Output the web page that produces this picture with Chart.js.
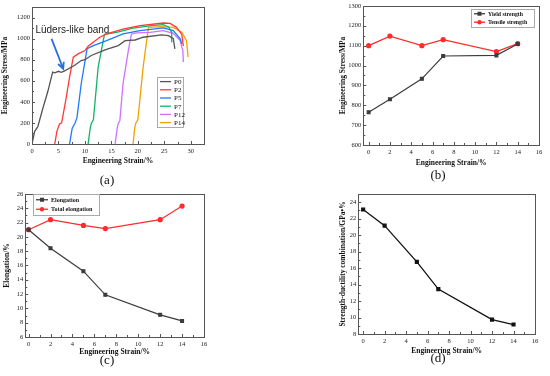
<!DOCTYPE html>
<html><head><meta charset="utf-8">
<script src="https://cdn.jsdelivr.net/npm/chart.js@4.4.1/dist/chart.umd.min.js"></script>
<style>
body{margin:0;background:#fff;width:550px;height:376px;position:relative;overflow:hidden}
canvas{position:absolute}
.tag{position:absolute;font:13px "Liberation Serif",serif;color:#111;transform:translate(-50%,-50%)}
</style></head><body>
<canvas id="ca" width="275" height="188" style="left:0;top:0"></canvas>
<canvas id="cb" width="275" height="188" style="left:275px;top:0"></canvas>
<canvas id="cc" width="275" height="188" style="left:0;top:188px"></canvas>
<canvas id="cd" width="275" height="188" style="left:275px;top:188px"></canvas>
<div class="tag" style="left:107px;top:180px">(a)</div>
<div class="tag" style="left:438px;top:175px">(b)</div>
<div class="tag" style="left:107px;top:360px">(c)</div>
<div class="tag" style="left:438px;top:358px">(d)</div>
<script>
// ---- data ----
// (a) stress-strain curves, [strain %, stress MPa]
const curveNames = ['P0', 'P2', 'P5', 'P7', 'P12', 'P14'];
const p0 = [[0,0],[0.5,120],[1.1,165],[2,330],[3,500],[3.9,682],[4.3,675],[5,690],[5.5,680],[6.1,692],[8,745],[9.3,792],[10,800],[11.2,840],[13.8,893],[16.3,934],[17.6,981],[19.5,987],[21,1013],[24.5,1035],[25.8,1028],[26.7,1000],[27,903]];
const p2 = [[4.3,0],[4.7,120],[5.2,190],[5.6,200],[6.4,420],[7.1,635],[7.8,824],[8.7,855],[10,887],[10.6,928],[12.8,1013],[14.1,1044],[17.2,1091],[20.4,1123],[24.8,1148],[26.1,1145],[27.3,1107],[28.3,1040],[28.6,930]];
const p5 = [[7.1,0],[7.6,150],[8.1,195],[8.5,250],[9.3,572],[10.4,903],[10.8,915],[11.6,934],[14.1,981],[17.2,1044],[20.4,1076],[24.8,1101],[26.7,1076],[28,997],[28.3,950]];
const p7 = [[10.6,0],[11,150],[11.2,195],[11.6,230],[12.5,730],[13.4,965],[13.7,1040],[16,1060],[19.1,1100],[22.9,1125],[24.8,1132],[25.8,1110],[26.4,1060],[26.4,965]];
const p12 = [[15.7,0],[16.1,150],[16.3,195],[16.6,220],[17.2,572],[18.2,887],[18.8,1044],[19.8,1054],[22.3,1060],[24.8,1076],[26.7,1050],[28,981],[28.5,887],[28.6,777]];
const p14 = [[19.1,0],[19.4,150],[19.6,195],[20,230],[21,730],[22,1107],[24.2,1113],[26.7,1107],[28.3,1060],[29.2,981],[29.5,824]];
const curves = [p0, p2, p5, p7, p12, p14];

// (b)-(d) share the pre-strain levels
const preStrain = [0, 2, 5, 7, 12, 14];
const yieldStrength = [765, 830, 933, 1048, 1051, 1108];
const tensileStrength = [1100, 1148, 1100, 1130, 1070, 1110];
const elongation = [21.0, 18.4, 15.2, 11.9, 9.1, 8.25];
const totalElongation = [21.0, 22.4, 21.6, 21.15, 22.4, 24.3];
const psProduct = [23.1, 21.15, 16.75, 13.45, 9.75, 9.15];

// tick labels
const aTicksX = [0, 5, 10, 15, 20, 25, 30];
const aTicksY = [0, 200, 400, 600, 800, 1000, 1200];
const sTicksX = [0, 2, 4, 6, 8, 10, 12, 14, 16];
const bTicksY = [600, 700, 800, 900, 1000, 1100, 1200, 1300];
const cTicksY = [6, 8, 10, 12, 14, 16, 18, 20, 22, 24, 26];
const dTicksY = [8, 10, 12, 14, 16, 18, 20, 22, 24];

const curveColors = ['#555555', '#ff3838', '#1f78ff', '#12b36a', '#d070ff', '#f2a300'];
const SERIF = '"Liberation Serif", "Times New Roman", serif';

// frame + inward ticks + boxed legend + annotations
const framePlugin = {
  id: 'frame',
  afterDraw(chart, args, o) {
    const {ctx, chartArea: a, scales: {x, y}} = chart;
    ctx.save();
    ctx.strokeStyle = '#555';
    ctx.lineWidth = 1;
    ctx.strokeRect(Math.round(a.left) + 0.5, Math.round(a.top) + 0.5, Math.round(a.right - a.left), Math.round(a.bottom - a.top));
    ctx.beginPath();
    const xt = o.xTicks, yt = o.yTicks;
    xt.forEach((v, i) => {
      const px = Math.round(x.getPixelForValue(v)) + 0.5;
      ctx.moveTo(px, a.bottom); ctx.lineTo(px, a.bottom - 3);
      if (i < xt.length - 1) {
        const m = Math.round(x.getPixelForValue((v + xt[i + 1]) / 2)) + 0.5;
        ctx.moveTo(m, a.bottom); ctx.lineTo(m, a.bottom - 2);
      }
    });
    yt.forEach((v, i) => {
      const py = Math.round(y.getPixelForValue(v)) + 0.5;
      ctx.moveTo(a.left, py); ctx.lineTo(a.left + 3, py);
      if (i < yt.length - 1) {
        const m = Math.round(y.getPixelForValue((v + yt[i + 1]) / 2)) + 0.5;
        ctx.moveTo(a.left, m); ctx.lineTo(a.left + 2, m);
      }
    });
    ctx.stroke();

    if (o.legend) {
      const L = o.legend;
      ctx.strokeStyle = '#aaa';
      ctx.strokeRect(L.x + 0.5, L.y + 0.5, L.w, L.h);
      ctx.font = L.font;
      ctx.textBaseline = 'middle';
      chart.data.datasets.forEach((ds, i) => {
        const ry = L.y + L.pad + L.row * (i + 0.5);
        ctx.strokeStyle = ds.borderColor;
        ctx.lineWidth = 1.3;
        ctx.beginPath();
        ctx.moveTo(L.x + 3, ry); ctx.lineTo(L.x + 3 + L.line, ry);
        ctx.stroke();
        if (ds.pointRadius) {
          ctx.fillStyle = ds.borderColor;
          const cx = L.x + 3 + L.line / 2;
          if (ds.pointStyle === 'rect') ctx.fillRect(cx - 2, ry - 2, 4, 4);
          else { ctx.beginPath(); ctx.arc(cx, ry, 2.2, 0, Math.PI * 2); ctx.fill(); }
        }
        ctx.fillStyle = '#111';
        ctx.fillText(ds.label, L.x + 6 + L.line, ry + 0.5);
      });
    }

    if (o.note) {
      const n = o.note;
      ctx.font = n.font;
      ctx.fillStyle = '#222';
      ctx.textBaseline = 'middle';
      ctx.fillText(n.text, x.getPixelForValue(n.at[0]), y.getPixelForValue(n.at[1]));
      const x0 = x.getPixelForValue(n.from[0]), y0 = y.getPixelForValue(n.from[1]);
      const x1 = x.getPixelForValue(n.to[0]), y1 = y.getPixelForValue(n.to[1]);
      const ang = Math.atan2(y1 - y0, x1 - x0);
      ctx.strokeStyle = '#2a6fd6';
      ctx.lineWidth = 1.8;
      ctx.beginPath();
      ctx.moveTo(x0, y0); ctx.lineTo(x1, y1);
      ctx.moveTo(x1 - 7 * Math.cos(ang - 0.45), y1 - 7 * Math.sin(ang - 0.45));
      ctx.lineTo(x1, y1);
      ctx.lineTo(x1 - 7 * Math.cos(ang + 0.45), y1 - 7 * Math.sin(ang + 0.45));
      ctx.stroke();
    }
    ctx.restore();
  }
};

function axes(p) {
  const tickFont = {family: SERIF, size: 6.5};
  const titleFont = {family: SERIF, size: 7.5, weight: 'bold'};
  return {
    x: {
      type: 'linear', min: p.xMin, max: p.xMax,
      grid: {display: false, drawTicks: false}, border: {display: false},
      ticks: {font: tickFont, color: '#222', padding: 3, maxRotation: 0, callback: v => String(v)},
      afterBuildTicks: s => { s.ticks = p.xTicks.map(v => ({value: v})); },
      afterFit: s => { s.height = p.xH; },
      title: {display: true, text: 'Engineering Strain/%', font: titleFont, color: '#111', padding: 0}
    },
    y: {
      type: 'linear', min: p.yMin, max: p.yMax,
      grid: {display: false, drawTicks: false}, border: {display: false},
      ticks: {font: tickFont, color: '#222', padding: 2, callback: v => String(v)},
      afterBuildTicks: s => { s.ticks = p.yTicks.map(v => ({value: v})); },
      afterFit: s => { s.width = p.yW; },
      title: {display: true, text: p.yTitle, font: titleFont, color: '#111', padding: 0}
    }
  };
}

function pts(xs, ys) { return xs.map((v, i) => ({x: v, y: ys[i]})); }

const common = {
  responsive: false, animation: false,
  plugins: {legend: {display: false}, tooltip: {enabled: false}}
};

// (a)
new Chart(document.getElementById('ca'), {
  type: 'line',
  data: {
    datasets: curves.map((c, i) => ({
      label: curveNames[i],
      data: c.map(p => ({x: p[0], y: p[1]})),
      borderColor: curveColors[i], borderWidth: 1.3, pointRadius: 0, tension: 0
    }))
  },
  options: {
    ...common,
    layout: {padding: {left: 1, top: 7, right: 71, bottom: 22}},
    scales: axes({xMin: 0, xMax: 32.5, yMin: 0, yMax: 1300, xTicks: aTicksX, yTicks: aTicksY, xH: 22, yW: 31, yTitle: 'Engineering Stress/MPa'}),
    plugins: {
      ...common.plugins,
      frame: {
        xTicks: aTicksX, yTicks: aTicksY,
        legend: {x: 157, y: 77, w: 26, h: 50, pad: 0.5, row: 8.2, line: 11, font: '7px ' + SERIF},
        note: {text: 'Lüders-like band', font: '10px "Liberation Sans", Arial, sans-serif', at: [0.65, 1075], from: [3.7, 997], to: [5.9, 714]}
      }
    }
  },
  plugins: [framePlugin]
});

// (b)
new Chart(document.getElementById('cb'), {
  type: 'line',
  data: {
    datasets: [
      {label: 'Yield strength', data: pts(preStrain, yieldStrength), borderColor: '#3c3c3c', backgroundColor: '#3c3c3c', borderWidth: 1.2, pointStyle: 'rect', pointRadius: 2},
      {label: 'Tensile strength', data: pts(preStrain, tensileStrength), borderColor: '#ff2b2b', backgroundColor: '#ff2b2b', borderWidth: 1.2, pointStyle: 'circle', pointRadius: 2}
    ]
  },
  options: {
    ...common,
    layout: {padding: {left: 64, top: 5, right: 11, bottom: 20.5}},
    scales: axes({xMin: -0.5, xMax: 16, yMin: 600, yMax: 1300, xTicks: sTicksX, yTicks: bTicksY, xH: 22.5, yW: 24.3, yTitle: 'Engineering Stress/MPa'}),
    plugins: {
      ...common.plugins,
      frame: {xTicks: sTicksX, yTicks: bTicksY,
        legend: {x: 196, y: 9, w: 63, h: 18, pad: 0.5, row: 8.5, line: 11, font: 'bold 5.8px ' + SERIF}}
    }
  },
  plugins: [framePlugin]
});

// (c)
new Chart(document.getElementById('cc'), {
  type: 'line',
  data: {
    datasets: [
      {label: 'Elongation', data: pts(preStrain, elongation), borderColor: '#3c3c3c', backgroundColor: '#3c3c3c', borderWidth: 1.2, pointStyle: 'rect', pointRadius: 2},
      {label: 'Total elongation', data: pts(preStrain, totalElongation), borderColor: '#ff2b2b', backgroundColor: '#ff2b2b', borderWidth: 1.2, pointStyle: 'circle', pointRadius: 2}
    ]
  },
  options: {
    ...common,
    layout: {padding: {left: 2.8, top: 3.3, right: 71, bottom: 19.2}},
    scales: axes({xMin: -0.3, xMax: 16, yMin: 6, yMax: 26, xTicks: sTicksX, yTicks: cTicksY, xH: 19.8, yW: 22.5, yTitle: 'Elongation/%'}),
    plugins: {
      ...common.plugins,
      frame: {xTicks: sTicksX, yTicks: cTicksY,
        legend: {x: 33, y: 6, w: 66, h: 21, pad: 1, row: 9.5, line: 12, font: 'bold 6px ' + SERIF}}
    }
  },
  plugins: [framePlugin]
});

// (d)
new Chart(document.getElementById('cd'), {
  type: 'line',
  data: {
    datasets: [
      {label: 'Strength-ductility combination', data: pts(preStrain, psProduct), borderColor: '#111', backgroundColor: '#111', borderWidth: 1.3, pointStyle: 'rect', pointRadius: 2}
    ]
  },
  options: {
    ...common,
    layout: {padding: {left: 63.8, top: 3.3, right: 15, bottom: 20.2}},
    scales: axes({xMin: -0.45, xMax: 16, yMin: 8, yMax: 25, xTicks: sTicksX, yTicks: dTicksY, xH: 21.8, yW: 19.5, yTitle: 'Strength-ductility combination/GPa\u2022%'}),
    plugins: {...common.plugins, frame: {xTicks: sTicksX, yTicks: dTicksY}}
  },
  plugins: [framePlugin]
});
</script>
</body></html>
